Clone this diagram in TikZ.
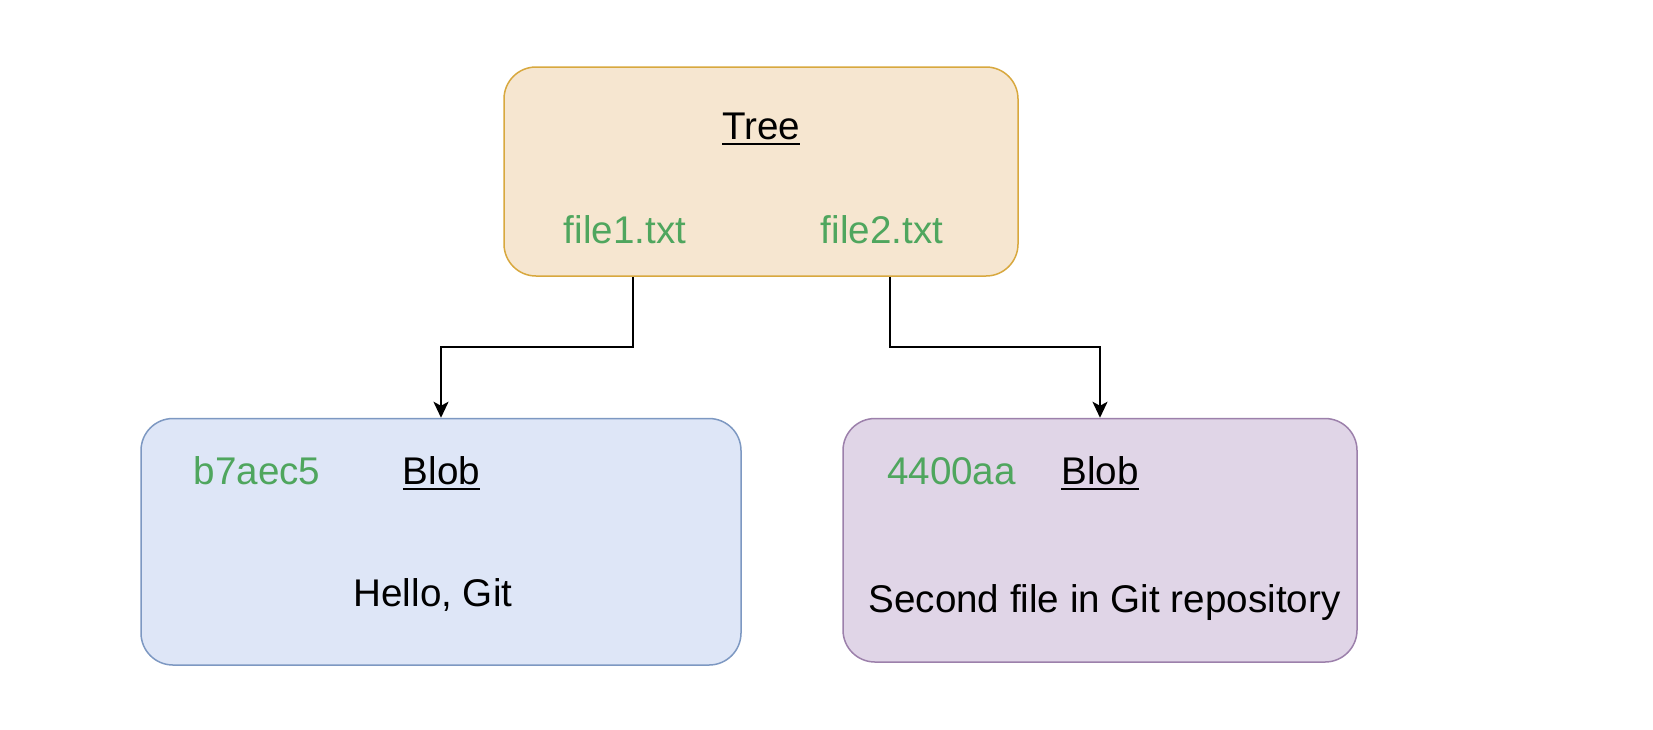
\documentclass[tikz,border=0pt]{standalone}
\usepackage{fontspec}
\setmainfont{Liberation Sans}
\usetikzlibrary{arrows.meta}
\definecolor{treefill}{HTML}{F6E6D0}
\definecolor{treeline}{HTML}{D8A83E}
\definecolor{blobafill}{HTML}{DEE6F7}
\definecolor{blobaline}{HTML}{7D98C2}
\definecolor{blobbfill}{HTML}{E0D5E7}
\definecolor{blobbline}{HTML}{9C80AB}
\definecolor{hashgreen}{HTML}{4FA65E}
\newcommand\titleul[1]{\vtop{\hbox{#1}\kern2pt\hrule height 1pt}}
\begin{document}
\begin{tikzpicture}[x=0.5pt,y=-0.5pt,
    box/.style={draw,line width=0.75pt,rounded corners=16pt,inner sep=0pt},
    lbl/.style={anchor=base,inner sep=0pt,font=\fontsize{19.3}{23}\selectfont},
    hash/.style={lbl,text=hashgreen},
    link/.style={line width=1pt,-{Stealth[length=8pt,width=7.5pt,inset=2pt]}}]
    \fill[white] (0,0) rectangle (1653,729);
    \node[box,fill=treefill,draw=treeline,minimum width=257pt,minimum height=104.5pt] (tree) at (761,171.5) {};
    \node[box,fill=blobafill,draw=blobaline,minimum width=300pt,minimum height=123.25pt] (bloba) at (441,541.75) {};
    \node[box,fill=blobbfill,draw=blobbline,minimum width=257pt,minimum height=121.75pt] (blobb) at (1100,540.25) {};
    \node[lbl] (treetitle) at (761,139) {\titleul{Tree}};
    \node[hash] (filea) at (625,243) {file1.txt};
    \node[hash] (fileb) at (882,243) {file2.txt};
    \node[hash] (hasha) at (257,484) {b7aec5};
    \node[lbl] (blobatitle) at (441.5,484) {\titleul{Blob}};
    \node[lbl] (contenta) at (433,606) {Hello, Git};
    \node[hash] (hashb) at (951.5,484) {4400aa};
    \node[lbl] (blobbtitle) at (1100,484) {\titleul{Blob}};
    \node[lbl] (contentb) at (1104.5,612.5) {Second file in Git repository};
    \coordinate (outa) at ([xshift=-64.25pt]tree.south);
    \coordinate (outb) at ([xshift=64.25pt]tree.south);
    \draw[link] (outa) -- ++(0,70) -| (bloba.north);
    \draw[link] (outb) -- ++(0,70) -| (blobb.north);
\end{tikzpicture}
\end{document}
